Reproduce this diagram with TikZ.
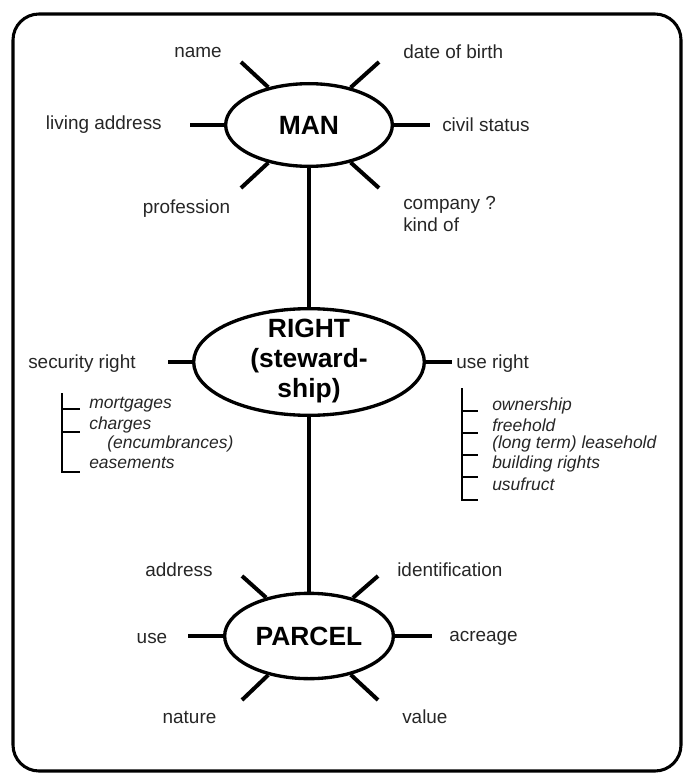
\documentclass[tikz,border=0pt]{standalone}
\usepackage{fontspec}
\setmainfont{Liberation Sans}
\usetikzlibrary{shapes.geometric}
\begin{document}
\begin{tikzpicture}[x=0.75pt,y=-0.75pt,
  hub/.style={ellipse, draw, line width=2.5pt, inner sep=0pt},
  hubtext/.style={inner sep=0pt, align=center, font=\fontsize{19.8pt}{22.8pt}\selectfont\bfseries},
  spoke/.style={line width=3pt},
  link/.style={line width=3.6pt},
  lbl/.style={inner sep=0pt, text=black!85, font=\fontsize{14.2pt}{16.5pt}\selectfont},
  item/.style={inner sep=0pt, anchor=west, text=black!85, font=\fontsize{13.1pt}{14.6pt}\selectfont\itshape},
  tree/.style={line width=1.1pt},
  frame/.style={line width=2.3pt, rounded corners=19.5pt}]
\useasboundingbox (0,0) rectangle (685,774);
\draw[frame] (13,14) rectangle (681,771);

% the three entities
\node[hub, minimum width=125pt, minimum height=62pt] (man) at (309,125) {};
\node[hubtext] (mantext) at (man) {MAN};
\node[hub, minimum width=173pt, minimum height=80pt] (right) at (309,362) {};
\node[hubtext] (righttext) at (309,361) {RIGHT\\(steward-\\ship)};
\node[hub, minimum width=126.5pt, minimum height=64pt] (parcel) at (309,636) {};
\node[hubtext] (parceltext) at (parcel) {PARCEL};

% relations
\draw[link] (man) -- (right);
\draw[link] (right) -- (parcel);

% attributes of MAN
\coordinate (mnw) at (241,62);
\coordinate (mne) at (379,62);
\coordinate (mw)  at (190,125);
\coordinate (me)  at (430,125);
\coordinate (msw) at (241,188);
\coordinate (mse) at (379,188);
\foreach \c in {mnw,mne,mw,me,msw,mse} \draw[spoke] (man) -- (\c);
\node[lbl] (name) at (198,52) {name};
\node[lbl, anchor=west] (birth) at (403,52) {date of birth};
\node[lbl, anchor=east] (living) at (162,125) {living address};
\node[lbl, anchor=west] (civil) at (442,125) {civil status};
\node[lbl] (profession) at (186.5,209) {profession};
\node[lbl, anchor=west, align=left] (company) at (403,214) {company ?\\kind of};

% kinds of RIGHT
\coordinate (rw) at (168,362);
\coordinate (re) at (452,362);
\draw[spoke] (right) -- (rw);
\draw[spoke] (right) -- (re);
\node[lbl, anchor=west] (security) at (28,364) {security right};
\node[lbl, anchor=west] (useright) at (456,364) {use right};

% security rights
\draw[tree] (62,393) -- (62,472) -- (80,472);
\draw[tree] (62,409) -- (80,409);
\draw[tree] (62,432) -- (80,432);
\node[item] (mortgages) at (89,405) {mortgages};
\node[item] (charges) at (89,425) {charges};
\node[item] (encumbrances) at (107,444) {(encumbrances)};
\node[item] (easements) at (89,463) {easements};

% use rights
\draw[tree] (462,388) -- (462,500) -- (478,500);
\foreach \y in {411,433,455,477} \draw[tree] (462,\y) -- (478,\y);
\node[item] (ownership) at (492,406) {ownership};
\node[item] (freehold) at (492,425) {freehold};
\node[item] (leasehold) at (492,444) {(long term) leasehold};
\node[item] (building) at (492,464) {building rights};
\node[item] (usufruct) at (492,484) {usufruct};

% attributes of PARCEL
\coordinate (pnw) at (242,576);
\coordinate (pne) at (378,576);
\coordinate (pw)  at (188,636);
\coordinate (pe)  at (432,636);
\coordinate (psw) at (242,700);
\coordinate (pse) at (378,700);
\foreach \c in {pnw,pne,pw,pe,psw,pse} \draw[spoke] (parcel) -- (\c);
\node[lbl] (address) at (179,570) {address};
\node[lbl, anchor=west] (ident) at (397,570) {identification};
\node[lbl] (use) at (152,638) {use};
\node[lbl, anchor=west] (acreage) at (449,638) {acreage};
\node[lbl] (nature) at (189.5,717) {nature};
\node[lbl, anchor=west] (value) at (402,717) {value};
\end{tikzpicture}
\end{document}
